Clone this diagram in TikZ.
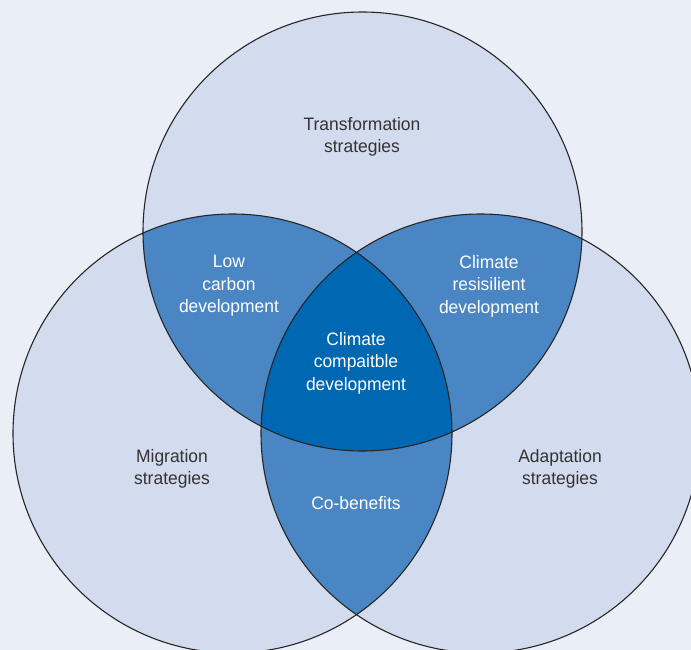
\documentclass[tikz,border=0pt]{standalone}
\usepackage{fontspec}
\setmainfont[FakeStretch=0.97]{Liberation Sans}
\usetikzlibrary{positioning}
\definecolor{pagebg}{HTML}{E9EEF7}
\definecolor{setfill}{HTML}{D3DCEE}
\definecolor{pairfill}{HTML}{4A86C4}
\definecolor{corefill}{HTML}{0067B2}
\definecolor{labelgray}{HTML}{333333}
\def\rad{219.5pt}

\begin{document}
\begin{tikzpicture}[x=1pt,y=-1pt,
	every node/.style={align=center,font=\fontsize{18}{22.5}\selectfont,text=labelgray},
	onblue/.style={text=white}]
	\fill[pagebg] (0,0) rectangle (691,650);
	\useasboundingbox (0,0) rectangle (691,650);
	\coordinate (trans) at (362.5,231.5);
	\coordinate (migr) at (232.5,433.5);
	\coordinate (adapt) at (480.5,433.5);
	% the three sets
	\fill[setfill] (trans) circle[radius=\rad] (migr) circle[radius=\rad] (adapt) circle[radius=\rad];
	% overlaps of two sets
	\begin{scope}
		\clip (trans) circle[radius=\rad];
		\fill[pairfill] (migr) circle[radius=\rad] (adapt) circle[radius=\rad];
	\end{scope}
	\begin{scope}
		\clip (migr) circle[radius=\rad];
		\fill[pairfill] (adapt) circle[radius=\rad];
	\end{scope}
	% overlap of all three
	\begin{scope}
		\clip (trans) circle[radius=\rad];
		\clip (migr) circle[radius=\rad];
		\fill[corefill] (adapt) circle[radius=\rad];
	\end{scope}
	\draw[black!85,line width=1.1pt] (trans) circle[radius=\rad] (migr) circle[radius=\rad] (adapt) circle[radius=\rad];
	% labels
	\node (translbl) at (362,137) {Transformation\\strategies};
	\node (migrlbl) at (172,469) {Migration\\strategies};
	\node (adaptlbl) at (560,469) {Adaptation\\strategies};
	\node[onblue] (lowcarbon) at (229,286) {Low\\carbon\\development};
	\node[onblue] (resilient) at (489,286) {Climate\\resisilient\\development};
	\node[onblue] (compatible) at (356,363) {Climate\\compaitble\\development};
	\node[onblue] (cobenefits) at (356,503) {Co-benefits};
\end{tikzpicture}
\end{document}
